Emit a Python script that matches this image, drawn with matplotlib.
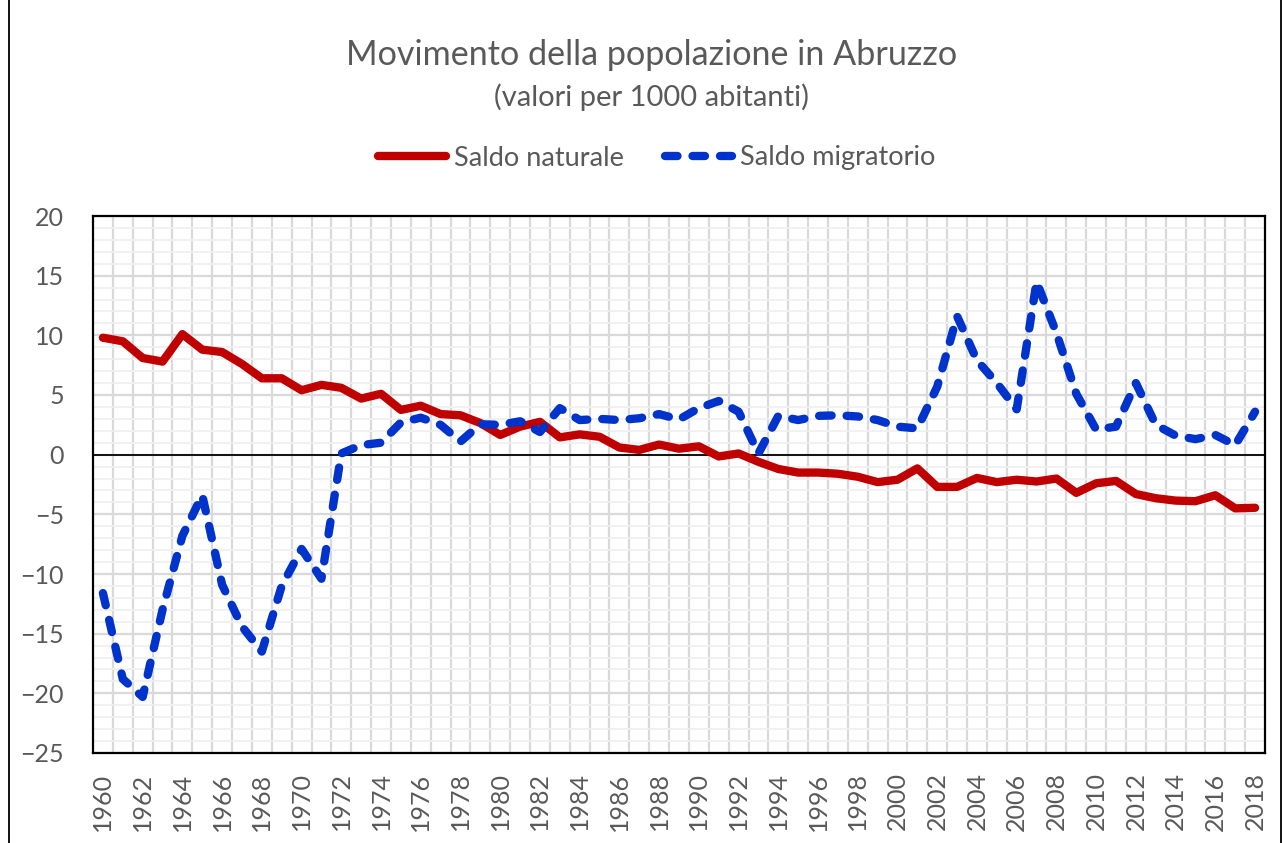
import matplotlib
matplotlib.use("Agg")
import matplotlib.pyplot as plt
from matplotlib.lines import Line2D
import numpy as np

years = list(range(1960, 2019))
saldo_naturale = [9.8, 9.5, 8.1, 7.8, 10.1, 8.8, 8.6, 7.6, 6.4, 6.4,
                  5.4, 5.85, 5.6, 4.7, 5.1, 3.75, 4.1, 3.4, 3.3, 2.65,
                  1.65, 2.35, 2.75, 1.45, 1.7, 1.5, 0.6, 0.4, 0.85, 0.5,
                  0.7, -0.15, 0.1, -0.6, -1.2, -1.5, -1.5, -1.6, -1.85, -2.3,
                  -2.1, -1.15, -2.7, -2.7, -1.95, -2.3, -2.1, -2.25, -2.0, -3.2,
                  -2.4, -2.2, -3.3, -3.65, -3.85, -3.9, -3.4, -4.5, -4.45]
saldo_migratorio = [-11.6, -18.8, -20.3, -13.0, -6.8, -3.4, -10.9, -14.4, -16.5, -11.0,
                    -7.9, -10.4, 0.1, 0.8, 1.0, 2.7, 3.1, 2.5, 1.1, 2.55,
                    2.5, 2.8, 1.9, 3.9, 2.9, 3.0, 2.9, 3.05, 3.4, 2.95,
                    3.9, 4.5, 3.6, 0.1, 3.25, 2.9, 3.25, 3.3, 3.2, 2.9,
                    2.35, 2.2, 5.7, 11.6, 7.9, 6.0, 3.8, 14.5, 10.2, 5.1,
                    2.1, 2.35, 6.0, 2.5, 1.6, 1.3, 1.65, 0.8, 3.6]
series_names = ["Saldo naturale", "Saldo migratorio"]
title = "Movimento della popolazione in Abruzzo"
subtitle = "(valori per 1000 abitanti)"

RED = "#C00000"
BLUE = "#0033CC"
TXT = "#595959"
FONT = ["Lato", "DejaVu Sans"]
plt.rcParams["font.family"] = FONT

W, H = 1284, 843
fig = plt.figure(figsize=(W / 100, H / 100), dpi=100)
ax = fig.add_axes([93 / W, 1 - 753 / H, (1265 - 93) / W, (753 - 216) / H])

x = np.arange(len(years))
ax.plot(x, saldo_naturale, color=RED, lw=6.0, solid_capstyle="round",
        solid_joinstyle="round", label=series_names[0], zorder=4)
ax.plot(x, saldo_migratorio, color=BLUE, lw=6.0, dash_capstyle="round",
        dash_joinstyle="round", dashes=(1.5, 1.8), label=series_names[1], zorder=4)

ax.set_xlim(-0.5, len(years) - 0.5)
ax.set_ylim(-25, 20)
ax.set_yticks(np.arange(-25, 21, 5))
ax.set_yticks(np.arange(-25, 21, 1), minor=True)
ax.set_xticks(x[::2])
ax.set_xticklabels([str(y) for y in years[::2]], rotation=90)
ax.set_xticks(np.arange(0.5, len(years) - 0.5, 1), minor=True)

ax.grid(False)
ax.yaxis.grid(True, which="minor", color="#F0F0F0", lw=1.3, zorder=0)
ax.yaxis.grid(True, which="major", color="#D9D9D9", lw=1.6, zorder=1)
ax.xaxis.grid(True, which="minor", color="#D9D9D9", lw=1.6, zorder=1)
ax.axhline(0, color="black", lw=1.3, zorder=3)

ax.tick_params(axis="both", which="both", length=0)
ax.tick_params(axis="y", labelsize=18, labelcolor=TXT, pad=21)
ax.tick_params(axis="x", labelsize=18, labelcolor=TXT, pad=14)
for s in ax.spines.values():
    s.set_color("black")
    s.set_linewidth(1.6)

fig.text(652 / W, 1 - 55 / H, title, ha="center", va="center", fontsize=24.6,
         color=TXT)
fig.text(651 / W, 1 - 97 / H, subtitle, ha="center", va="center", fontsize=21,
         color=TXT)

fig.legend(loc="center", bbox_to_anchor=(657 / W, 1 - 158 / H), ncol=2,
           frameon=False, fontsize=19.5, handlelength=2.5, handletextpad=0.3,
           columnspacing=1.5, labelcolor=TXT)

for xx in (9 / W, 1281 / W):
    fig.add_artist(Line2D([xx, xx], [0, 1], transform=fig.transFigure,
                          color="black", lw=1.3))

fig.savefig("out.png", dpi=100)
